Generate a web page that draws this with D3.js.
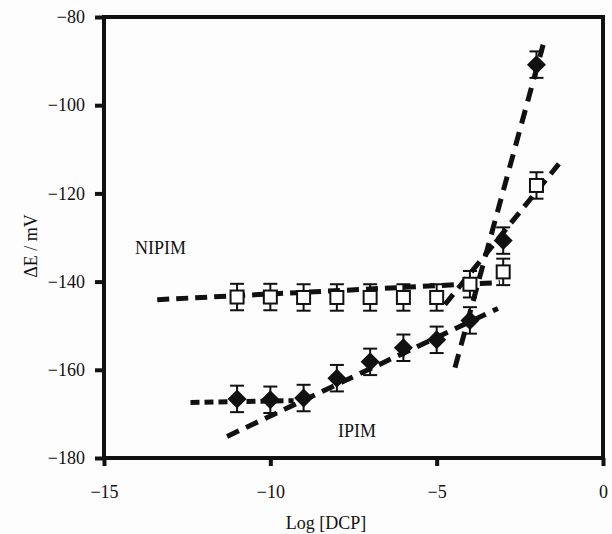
<!DOCTYPE html>
<html>
<head>
<meta charset="utf-8">
<script src="https://cdn.jsdelivr.net/npm/d3@7"></script>
<style>
  body { margin: 0; background: #fdfdfd; }
  svg text { font-family: "Liberation Serif", "Times New Roman", serif; fill: #111; }
</style>
</head>
<body>
<svg id="chart"></svg>
<script>
var logDcp = [-11, -10, -9, -8, -7, -6, -5, -4, -3, -2];
var nipim = [-143.5, -143.5, -143.6, -143.6, -143.6, -143.6, -143.6, -140.6, -137.8, -118.2];
var ipim = [-166.6, -166.8, -166.4, -161.9, -158.2, -155.0, -153.2, -148.8, -130.7, -90.8];
var errBar = 3;
var xTicks = [-15, -10, -5, 0];
var yTicks = [-180, -160, -140, -120, -100, -80];

// fitted dashed lines: [x1, y1, x2, y2]
var fitNipimFlat = [-13.4, -144.1, -3.1, -140.2];
var fitNipimSteep = [-4.75, -145.2, -1.23, -112.4];
var fitIpimFlat = [-12.4, -167.4, -9.3, -167.0];
var fitIpimMid = [-11.3, -175.1, -3.16, -146.1];
var fitIpimSteep = [-4.45, -159.5, -1.8, -86.3];

var $svg = {width: 612, height: 534};
var $m = {left: 104, right: 603, top: 17, bottom: 458};
var $font = 18;

function init () {
    var svg = (
        d3.select('svg#chart')
        .attr('width', $svg.width)
        .attr('height', $svg.height)
    );
    var x = d3.scaleLinear().domain([-15, 0]).range([$m.left, $m.right]);
    var y = d3.scaleLinear().domain([-180, -80]).range([$m.bottom, $m.top]);

    // axes
    var xAxis = (
        svg.append('g')
        .attr('transform', `translate(0,${$m.bottom})`)
        .call(d3.axisBottom(x).tickValues(xTicks).tickSize(8).tickPadding(19)
              .tickFormat(d => d === 0 ? '0' : '\u2212' + Math.abs(d)))
    );
    var yAxis = (
        svg.append('g')
        .attr('transform', `translate(${$m.left},0)`)
        .call(d3.axisLeft(y).tickValues(yTicks).tickSize(9).tickPadding(10)
              .tickFormat(d => '\u2212' + Math.abs(d)))
    );
    [xAxis, yAxis].forEach(a => {
        a.select('.domain').remove();
        a.selectAll('.tick line').attr('stroke', '#111').attr('stroke-width', 4);
        a.selectAll('.tick text').attr('font-size', $font)
            .style('font-family', '"Liberation Serif", serif');
    });

    // frame
    svg.append('rect')
        .attr('x', $m.left).attr('y', $m.top)
        .attr('width', $m.right - $m.left).attr('height', $m.bottom - $m.top)
        .attr('fill', 'none').attr('stroke', '#111').attr('stroke-width', 4);

    // fit lines
    var fits = [
        [fitNipimFlat, '12,7'],
        [fitNipimSteep, '13,8'],
        [fitIpimFlat, '9,5'],
        [fitIpimMid, '13,8'],
        [fitIpimSteep, '14,9'],
    ];
    fits.forEach(([f, dash]) => {
        svg.append('line')
            .attr('x1', x(f[0])).attr('y1', y(f[1]))
            .attr('x2', x(f[2])).attr('y2', y(f[3]))
            .attr('stroke', '#111').attr('stroke-width', 5)
            .attr('stroke-dasharray', dash);
    });

    // error bars
    function errorBars (vals) {
        var g = svg.append('g').attr('stroke', '#111').attr('stroke-width', 2);
        logDcp.forEach((d, i) => {
            var cx = x(d), top = y(vals[i] + errBar), bot = y(vals[i] - errBar);
            g.append('line').attr('x1', cx).attr('x2', cx).attr('y1', top).attr('y2', bot);
            g.append('line').attr('x1', cx - 7).attr('x2', cx + 7).attr('y1', top).attr('y2', top);
            g.append('line').attr('x1', cx - 7).attr('x2', cx + 7).attr('y1', bot).attr('y2', bot);
        });
    }
    errorBars(nipim);
    errorBars(ipim);

    // NIPIM squares
    svg.append('g').selectAll('rect')
        .data(logDcp)
        .join('rect')
        .attr('x', (d) => x(d) - 6.5)
        .attr('y', (d, i) => y(nipim[i]) - 6.5)
        .attr('width', 13).attr('height', 13)
        .attr('fill', '#fff').attr('stroke', '#111').attr('stroke-width', 2);

    // IPIM diamonds
    svg.append('g').selectAll('path')
        .data(logDcp)
        .join('path')
        .attr('d', (d, i) => {
            var cx = x(d), cy = y(ipim[i]), r = 9.5;
            return `M${cx},${cy - r}L${cx + r},${cy}L${cx},${cy + r}L${cx - r},${cy}Z`;
        })
        .attr('fill', '#111');

    // labels
    svg.append('text').attr('x', 135).attr('y', 254).attr('font-size', $font).text('NIPIM');
    svg.append('text').attr('x', 338).attr('y', 437).attr('font-size', $font).text('IPIM');
    svg.append('text').attr('x', 326).attr('y', 529).attr('font-size', $font)
        .attr('text-anchor', 'middle').text('Log [DCP]');
    svg.append('text')
        .attr('transform', 'translate(37,246) rotate(-90)')
        .attr('font-size', $font).attr('text-anchor', 'middle').text('\u0394E / mV');
}

init();
</script>
</body>
</html>
